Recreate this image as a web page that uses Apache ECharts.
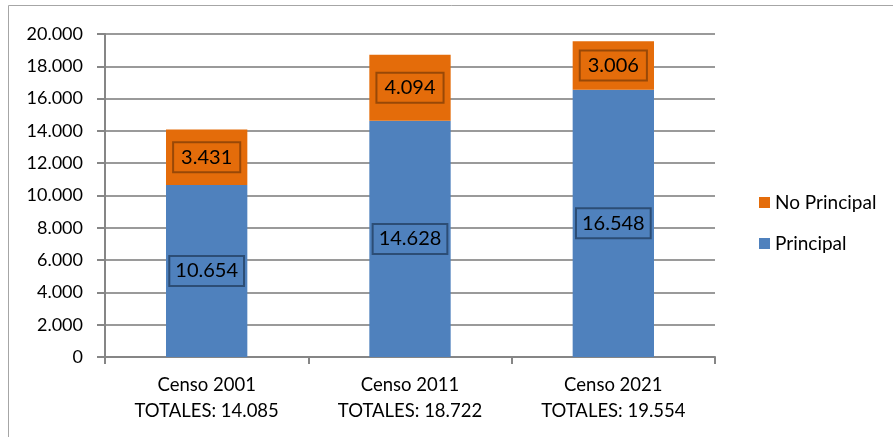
<!DOCTYPE html>
<html><head><meta charset="utf-8">
<script src="https://cdn.jsdelivr.net/npm/echarts@6/dist/echarts.min.js"></script>
<style>html,body{margin:0;padding:0;background:#fff}#c{width:893px;height:437px}</style>
</head><body><div id="c"></div>
<script>
const categories = ['Censo 2001', 'Censo 2011', 'Censo 2021'];
const totals = [14085, 18722, 19554];
const principal = [10654, 14628, 16548];
const noPrincipal = [3431, 4094, 3006];
const yTicks = { min: 0, max: 20000, interval: 2000 };

const fmt = v => String(v).replace(/\B(?=(\d{3})+(?!\d))/g, '.');
const FONT = 'Lato, "Open Sans", sans-serif';

const chart = echarts.init(document.getElementById('c'));
chart.setOption({
  animation: false,
  graphic: [{ type: 'rect', shape: { x: 8.5, y: 5.5, width: 900, height: 450 }, style: { fill: 'none', stroke: '#a6a6a6', lineWidth: 1 }, silent: true }],
  grid: { left: 105, right: 178, top: 34, bottom: 80 },
  legend: {
    orient: 'vertical', left: 754, top: 188, itemWidth: 11, itemHeight: 11, itemGap: 22,
    icon: 'rect',
    textStyle: { fontFamily: FONT, fontSize: 19, color: '#000' },
    data: ['No Principal', 'Principal']
  },
  xAxis: {
    type: 'category', data: categories,
    axisLine: { lineStyle: { color: '#868686', width: 2 } },
    axisTick: { show: true, length: 7, lineStyle: { color: '#868686', width: 2 } },
    axisLabel: {
      fontFamily: FONT, fontSize: 18.5, color: '#000', margin: 15, lineHeight: 26,
      formatter: (v, i) => v + '\nTOTALES: ' + fmt(totals[i])
    }
  },
  yAxis: {
    type: 'value', min: yTicks.min, max: yTicks.max, interval: yTicks.interval,
    axisLine: { show: true, lineStyle: { color: '#868686', width: 2 } },
    axisTick: { show: true, length: 8, lineStyle: { color: '#868686', width: 2 } },
    splitLine: { lineStyle: { color: '#9a9a9a', width: 2 } },
    axisLabel: { fontFamily: FONT, fontSize: 18, color: '#000', margin: 22, formatter: v => fmt(v) }
  },
  series: [
    {
      name: 'Principal', type: 'bar', stack: 't', data: principal, barWidth: '40%',
      itemStyle: { color: '#4F81BD' },
      label: {
        show: true, position: 'inside', formatter: p => fmt(p.value),
        fontFamily: FONT, fontSize: 20, color: '#000',
        borderColor: '#2C4D75', borderWidth: 2, padding: [6, 6, 4, 6]
      }
    },
    {
      name: 'No Principal', type: 'bar', stack: 't', data: noPrincipal, barWidth: '40%',
      itemStyle: { color: '#E46C0A' },
      label: {
        show: true, position: 'inside', formatter: p => fmt(p.value),
        fontFamily: FONT, fontSize: 20, color: '#000',
        borderColor: '#984807', borderWidth: 2, padding: [6, 8, 4, 8]
      }
    }
  ]
});
</script></body></html>
